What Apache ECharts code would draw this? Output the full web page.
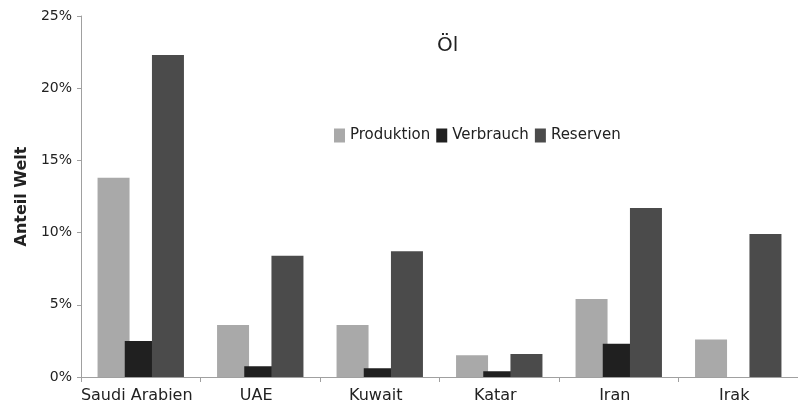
<!DOCTYPE html>
<html>
<head>
<meta charset="utf-8">
<title>Öl</title>
<script src="https://cdn.jsdelivr.net/npm/echarts@6/dist/echarts.min.js"></script>
<style>
  html, body { margin: 0; padding: 0; background: #fff; }
  #chart { width: 798px; height: 406px; }
</style>
</head>
<body>
<div id="chart"></div>
<script>
// Daten (Anteil Welt in %)
const laender = ['Saudi Arabien', 'UAE', 'Kuwait', 'Katar', 'Iran', 'Irak']
const produktion = [13.8, 3.6, 3.6, 1.5, 5.4, 2.6]
const verbrauch = [2.5, 0.75, 0.6, 0.4, 2.3, null]
const reserven = [22.3, 8.4, 8.7, 1.6, 11.7, 9.9]
const yTicks = [0, 5, 10, 15, 20, 25]

const font = 'DejaVu Sans'
const textColor = '#222'
const axisColor = '#a0a0a0'

const chart = echarts.init(document.getElementById('chart'))

const makeSeries = (name, data, color) => ({
  name: name,
  type: 'bar',
  data: data,
  barWidth: 32,
  barGap: '-15%',
  itemStyle: { color: color },
  emphasis: { disabled: true }
})

const option = {
  animation: false,
  textStyle: { fontFamily: font, color: textColor },
  title: {
    text: 'Öl',
    left: 432,
    top: 31,
    textStyle: { fontFamily: font, fontSize: 20, fontWeight: 'normal', color: textColor }
  },
  legend: {
    left: 329,
    top: 123,
    itemWidth: 11,
    itemHeight: 14,
    itemGap: 6,
    icon: 'rect',
    textStyle: { fontFamily: font, fontSize: 15, color: textColor },
    data: ['Produktion', 'Verbrauch', 'Reserven']
  },
  grid: {
    left: 81,
    top: 16,
    bottom: 29,
    width: 722
  },
  xAxis: {
    type: 'category',
    data: laender,
    axisLine: { lineStyle: { color: axisColor, width: 1 } },
    axisTick: { show: true, length: 5, lineStyle: { color: axisColor } },
    axisLabel: {
      fontFamily: font,
      fontSize: 16,
      color: textColor,
      margin: 11,
      interval: 0,
      padding: [0, 8, 0, 0]
    }
  },
  yAxis: {
    type: 'value',
    min: yTicks[0],
    max: yTicks[yTicks.length - 1],
    interval: yTicks[1] - yTicks[0],
    name: 'Anteil Welt',
    nameLocation: 'middle',
    nameGap: 47,
    nameTextStyle: { fontFamily: font, fontSize: 16, fontWeight: 'bold', color: textColor },
    axisLine: { show: true, lineStyle: { color: axisColor, width: 1 } },
    axisTick: { show: true, length: 4, lineStyle: { color: axisColor } },
    axisLabel: {
      fontFamily: font,
      fontSize: 14,
      color: textColor,
      margin: 9,
      formatter: (v) => v + '%'
    },
    splitLine: { show: false }
  },
  series: [
    makeSeries('Produktion', produktion, '#a9a9a9'),
    makeSeries('Verbrauch', verbrauch, '#202020'),
    makeSeries('Reserven', reserven, '#4b4b4b')
  ]
}

chart.setOption(option)
</script>
</body>
</html>
